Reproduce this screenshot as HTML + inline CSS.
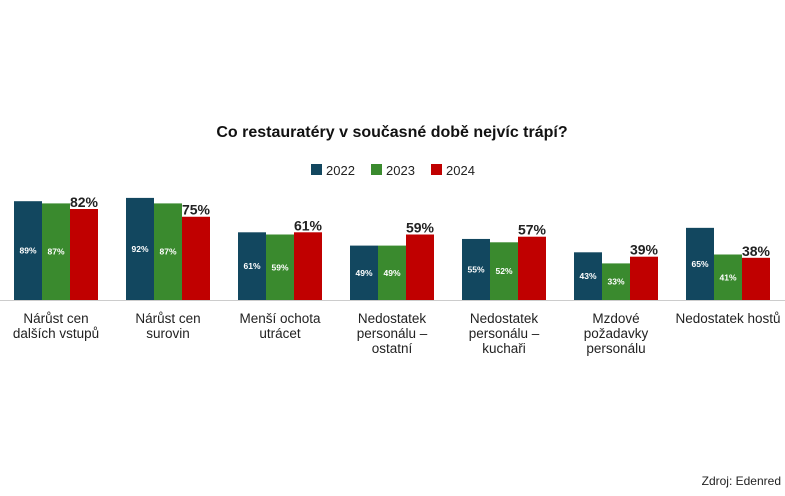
<!DOCTYPE html>
<html><head><meta charset="utf-8"><style>
body{margin:0;background:#fff;width:785px;height:491px;overflow:hidden;font-family:"Liberation Sans",sans-serif;}
.w{font-size:8.5px;font-weight:bold;fill:#fff;text-anchor:middle}
.r{font-size:14px;font-weight:bold;fill:#222;text-anchor:end}
.c{font-size:13.5px;fill:#222;text-anchor:middle}
</style></head><body>
<svg width="785" height="491" xmlns="http://www.w3.org/2000/svg" font-family="Liberation Sans, sans-serif">
<text x="392" y="137" text-anchor="middle" font-size="16" font-weight="bold" fill="#111">Co restauratéry v současné době nejvíc trápí?</text>
<rect x="311" y="164" width="11" height="11" fill="#12475f"/><text x="326" y="175" font-size="13" fill="#222">2022</text>
<rect x="371" y="164" width="11" height="11" fill="#3a8a2e"/><text x="386" y="175" font-size="13" fill="#222">2023</text>
<rect x="431" y="164" width="11" height="11" fill="#c00000"/><text x="446" y="175" font-size="13" fill="#222">2024</text>
<line x1="0" y1="300.5" x2="785" y2="300.5" stroke="#ccc" stroke-width="1"/>

<rect x="14" y="201.2" width="28" height="98.8" fill="#12475f"/><text class="w" x="28" y="253.6">89%</text>
<rect x="42" y="203.4" width="28" height="96.6" fill="#3a8a2e"/><text class="w" x="56" y="254.7">87%</text>
<rect x="70" y="209" width="28" height="91" fill="#c00000"/><text class="r" x="98" y="207">82%</text>
<text class="c" x="56" y="323">Nárůst cen</text><text class="c" x="56" y="338">dalších vstupů</text>

<rect x="126" y="197.9" width="28" height="102.1" fill="#12475f"/><text class="w" x="140" y="252">92%</text>
<rect x="154" y="203.4" width="28" height="96.6" fill="#3a8a2e"/><text class="w" x="168" y="254.7">87%</text>
<rect x="182" y="216.75" width="28" height="83.25" fill="#c00000"/><text class="r" x="210" y="214.7">75%</text>
<text class="c" x="168" y="323">Nárůst cen</text><text class="c" x="168" y="338">surovin</text>

<rect x="238" y="232.3" width="28" height="67.7" fill="#12475f"/><text class="w" x="252" y="269.2">61%</text>
<rect x="266" y="234.5" width="28" height="65.5" fill="#3a8a2e"/><text class="w" x="280" y="270.3">59%</text>
<rect x="294" y="232.3" width="28" height="67.7" fill="#c00000"/><text class="r" x="322" y="230.3">61%</text>
<text class="c" x="280" y="323">Menší ochota</text><text class="c" x="280" y="338">utrácet</text>

<rect x="350" y="245.6" width="28" height="54.4" fill="#12475f"/><text class="w" x="364" y="275.8">49%</text>
<rect x="378" y="245.6" width="28" height="54.4" fill="#3a8a2e"/><text class="w" x="392" y="275.8">49%</text>
<rect x="406" y="234.5" width="28" height="65.5" fill="#c00000"/><text class="r" x="434" y="232.5">59%</text>
<text class="c" x="392" y="323">Nedostatek</text><text class="c" x="392" y="338">personálu –</text><text class="c" x="392" y="353">ostatní</text>

<rect x="462" y="238.95" width="28" height="61.05" fill="#12475f"/><text class="w" x="476" y="272.5">55%</text>
<rect x="490" y="242.3" width="28" height="57.7" fill="#3a8a2e"/><text class="w" x="504" y="274.2">52%</text>
<rect x="518" y="236.7" width="28" height="63.3" fill="#c00000"/><text class="r" x="546" y="234.7">57%</text>
<text class="c" x="504" y="323">Nedostatek</text><text class="c" x="504" y="338">personálu –</text><text class="c" x="504" y="353">kuchaři</text>

<rect x="574" y="252.3" width="28" height="47.7" fill="#12475f"/><text class="w" x="588" y="279.2">43%</text>
<rect x="602" y="263.4" width="28" height="36.6" fill="#3a8a2e"/><text class="w" x="616" y="284.7">33%</text>
<rect x="630" y="256.7" width="28" height="43.3" fill="#c00000"/><text class="r" x="658" y="254.7">39%</text>
<text class="c" x="616" y="323">Mzdové</text><text class="c" x="616" y="338">požadavky</text><text class="c" x="616" y="353">personálu</text>

<rect x="686" y="227.85" width="28" height="72.15" fill="#12475f"/><text class="w" x="700" y="266.9">65%</text>
<rect x="714" y="254.5" width="28" height="45.5" fill="#3a8a2e"/><text class="w" x="728" y="280.3">41%</text>
<rect x="742" y="257.8" width="28" height="42.2" fill="#c00000"/><text class="r" x="770" y="255.8">38%</text>
<text class="c" x="728" y="323">Nedostatek hostů</text>

<text x="781" y="485" text-anchor="end" font-size="12" fill="#222">Zdroj: Edenred</text>
</svg>
</body></html>
